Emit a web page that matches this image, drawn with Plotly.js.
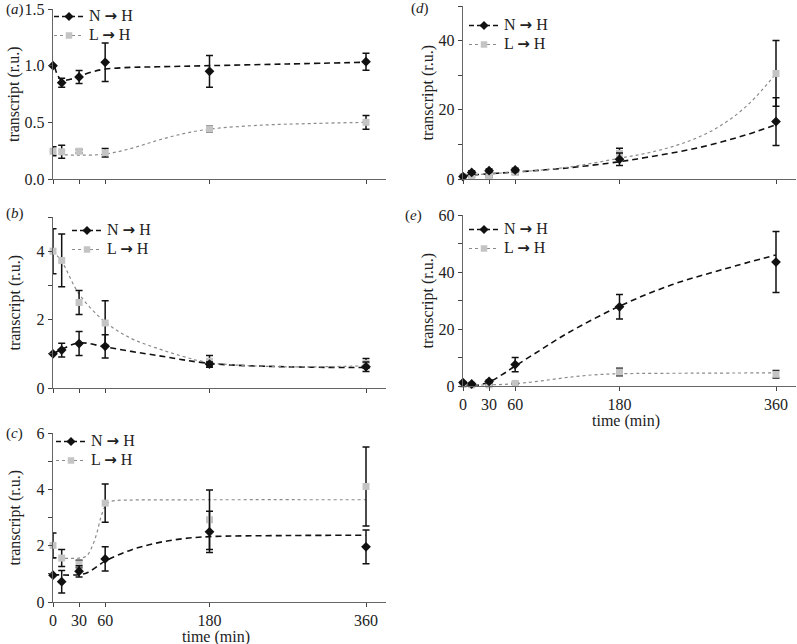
<!DOCTYPE html>
<html>
<head>
<meta charset="utf-8">
<script src="https://cdn.plot.ly/plotly-3.0.1.min.js"></script>
<style>html,body{margin:0;padding:0;background:#fff;}#chart{width:797px;height:644px;}</style>
</head>
<body>
<div id="chart"></div>
<script>
// ---- data ----
const times = [0, 10, 30, 60, 180, 360];
const tickTimes = [0, 30, 60, 180, 360];
const tickLabels = ['0', '30', '60', '180', '360'];
const seriesNames = ['N \u2192 H', 'L \u2192 H'];
const panelLabels = ['a', 'b', 'c', 'd', 'e'];

// panel (a)
const aN = [1.0, 0.85, 0.90, 1.03, 0.95, 1.035];
const aNerr = [0, 0.04, 0.057, 0.17, 0.14, 0.075];
const aL = [0.245, 0.24, 0.245, 0.232, 0.44, 0.50];
const aLerr = [0.04, 0.057, 0.015, 0.037, 0.025, 0.06];
const aFitNt = [2, 5, 10, 20, 30, 45, 60, 90, 120, 180, 270, 360];
const aFitN = [0.99, 0.92, 0.87, 0.88, 0.905, 0.945, 0.97, 0.985, 0.99, 1.0, 1.015, 1.03];
const aFitLt = [0, 10, 30, 60, 90, 120, 150, 180, 240, 300, 360];
const aFitL = [0.22, 0.215, 0.21, 0.22, 0.27, 0.34, 0.40, 0.44, 0.475, 0.49, 0.5];

// panel (b)
const bN = [1.0, 1.11, 1.3, 1.22, 0.70, 0.62];
const bNerr = [0, 0.2, 0.35, 0.34, 0.06, 0.14];
const bL = [4.0, 3.73, 2.5, 1.9, 0.78, 0.72];
const bLerr = [0.66, 0.77, 0.35, 0.65, 0.17, 0.14];
const bFitNt = [0, 10, 30, 60, 90, 120, 180, 270, 360];
const bFitN = [1.0, 1.13, 1.32, 1.2, 1.07, 0.95, 0.72, 0.62, 0.6];
const bFitLt = [0, 10, 30, 60, 90, 120, 150, 180, 270, 360];
const bFitL = [4.0, 3.7, 2.75, 1.93, 1.45, 1.16, 0.92, 0.74, 0.62, 0.65];

// panel (c)
const cN = [0.95, 0.72, 1.09, 1.53, 2.49, 1.96];
const cNerr = [0, 0.4, 0.2, 0.43, 0.73, 0.6];
const cL = [2.01, 1.56, 1.35, 3.51, 2.92, 4.1];
const cLerr = [0.44, 0.3, 0.13, 0.68, 1.06, 1.4];
const cFitNt = [0, 30, 40, 60, 90, 120, 150, 180, 270, 360];
const cFitN = [0.97, 0.97, 1.05, 1.45, 1.85, 2.1, 2.25, 2.32, 2.36, 2.37];
const cFitLt = [0, 10, 20, 30, 38, 44, 50, 55, 60, 65, 72, 90, 180, 360];
const cFitL = [1.55, 1.55, 1.55, 1.56, 1.62, 1.9, 2.4, 3.0, 3.4, 3.55, 3.6, 3.62, 3.63, 3.63];

// panel (d)
const dN = [0.7, 1.9, 2.4, 2.6, 5.7, 16.6];
const dNerr = [0.3, 0.5, 0.5, 0.5, 1.8, 6.9];
const dL = [0.7, 1.0, 0.7, 1.9, 7.4, 30.5];
const dLerr = [0.3, 0.4, 0.3, 0.6, 1.5, 9.5];
const dFitNt = [0, 30, 60, 120, 180, 210, 240, 270, 300, 330, 360];
const dFitN = [1.0, 1.5, 2.0, 3.2, 5.0, 6.2, 7.5, 9.0, 10.9, 13.1, 15.7];
const dFitLt = [0, 30, 60, 120, 180, 210, 240, 270, 300, 330, 360];
const dFitL = [1.0, 1.5, 2.0, 3.4, 6.0, 7.4, 9.3, 12.0, 16.0, 22.0, 30.5];

// panel (e)
const eN = [1.2, 0.7, 1.6, 7.5, 27.8, 43.5];
const eNerr = [0.3, 0.3, 0.5, 2.5, 4.3, 10.7];
const eL = [0.6, 0.4, 0.4, 0.9, 4.9, 4.1];
const eLerr = [0.2, 0.2, 0.2, 0.3, 1.3, 1.3];
const eFitNt = [0, 15, 30, 45, 60, 90, 120, 180, 240, 300, 360];
const eFitN = [0, 0.2, 1.4, 4.0, 7.0, 12.8, 18.5, 28, 35.5, 41, 46];
const eFitLt = [0, 30, 60, 90, 120, 150, 180, 270, 360];
const eFitL = [0.3, 0.4, 0.8, 1.8, 3.0, 3.9, 4.3, 4.5, 4.6];

// ---- styles / layout ----
const SERIF = 'Liberation Serif, Times New Roman, serif';
const TXT = '#222';
const black = '#111';
const gray = '#c4c4c4';
const W = 797, H = 644;
const px2x = p => p / W;
const px2y = p => 1 - p / H;

const panels = [
  {N: aN, Ne: aNerr, L: aL, Le: aLerr, fNt: aFitNt, fN: aFitN, fLt: aFitLt, fL: aFitL,
   xd: [53, 386], yd: [179, 9], yr: [0, 1.5], dtick: 0.5, minor: null, fmt: '.1f', xlab: false, lab: [4, 10], tx: 14, leg: [49, 2]},
  {N: bN, Ne: bNerr, L: bL, Le: bLerr, fNt: bFitNt, fN: bFitN, fLt: bFitLt, fL: bFitL,
   xd: [53, 386], yd: [388, 217], yr: [0, 5], dtick: 2, minor: 1, fmt: 'd', xlab: false, lab: [4, 213], tx: 14, leg: [67, 216]},
  {N: cN, Ne: cNerr, L: cL, Le: cLerr, fNt: cFitNt, fN: cFitN, fLt: cFitLt, fL: cFitL,
   xd: [53, 386], yd: [602, 433], yr: [0, 6], dtick: 2, minor: 1, fmt: 'd', xlab: true, lab: [4, 433], tx: 14, leg: [51, 427]},
  {N: dN, Ne: dNerr, L: dL, Le: dLerr, fNt: dFitNt, fN: dFitN, fLt: dFitLt, fL: dFitL,
   xd: [463, 796], yd: [179, 6], yr: [0, 50], dtick: 20, minor: 10, fmt: 'd', xlab: false, lab: [409, 8], tx: 427, leg: [464, 11]},
  {N: eN, Ne: eNerr, L: eL, Le: eLerr, fNt: eFitNt, fN: eFitN, fLt: eFitLt, fL: eFitL,
   xd: [463, 796], yd: [386, 215], yr: [0, 60], dtick: 20, minor: 10, fmt: 'd', xlab: true, lab: [403, 215], tx: 427, leg: [464, 215]}
];

const traces = [];
const layout = {
  width: W, height: H,
  margin: {l: 0, r: 0, t: 0, b: 0},
  paper_bgcolor: '#fff', plot_bgcolor: 'rgba(0,0,0,0)',
  font: {family: SERIF, size: 15, color: TXT},
  showlegend: true,
  annotations: []
};

const legendText = s => '<span style="font-size:16px">' +
  s.replace('\u2192', '<span style="font-family:DejaVu Sans;font-weight:bold;font-size:15px">\u2192</span>') + '</span>';

panels.forEach((p, i) => {
  const k = i + 1;
  const xa = k === 1 ? 'x' : 'x' + k;
  const ya = k === 1 ? 'y' : 'y' + k;
  const legName = k === 1 ? 'legend' : 'legend' + k;

  // fitted curves
  traces.push({x: p.fNt, y: p.fN, xaxis: xa, yaxis: ya, mode: 'lines', showlegend: false,
    line: {color: black, width: 1.6, dash: '6px,4px', shape: 'spline', smoothing: 1}, hoverinfo: 'skip'});
  traces.push({x: p.fLt, y: p.fL, xaxis: xa, yaxis: ya, mode: 'lines', showlegend: false,
    line: {color: '#8a8a8a', width: 1.2, dash: 'dot', shape: 'spline', smoothing: 1}, hoverinfo: 'skip'});
  // data points with error bars
  traces.push({x: times, y: p.L, xaxis: xa, yaxis: ya, mode: 'markers', showlegend: false, cliponaxis: false,
    marker: {symbol: 'square', size: 7, color: gray},
    error_y: {type: 'data', array: p.Le, visible: true, color: black, thickness: 1.5, width: 3.5}});
  traces.push({x: times, y: p.N, xaxis: xa, yaxis: ya, mode: 'markers', showlegend: false, cliponaxis: false,
    marker: {symbol: 'diamond', size: 7.5, color: black},
    error_y: {type: 'data', array: p.Ne, visible: true, color: black, thickness: 1.5, width: 3.5}});
  // legend entries
  traces.push({x: [null], y: [null], xaxis: xa, yaxis: ya, mode: 'lines+markers', name: legendText(seriesNames[0]), legend: legName,
    line: {color: black, width: 1.5, dash: '5px,3px'}, marker: {symbol: 'diamond', size: 7, color: black}});
  traces.push({x: [null], y: [null], xaxis: xa, yaxis: ya, mode: 'lines+markers', name: legendText(seriesNames[1]), legend: legName,
    line: {color: '#8a8a8a', width: 1.2, dash: 'dot'}, marker: {symbol: 'square', size: 6.5, color: gray}});

  layout[legName] = {
    x: px2x(p.leg[0]), y: px2y(p.leg[1]), xanchor: 'left', yanchor: 'top',
    bgcolor: 'rgba(0,0,0,0)', borderwidth: 0, itemwidth: 30,
    font: {family: SERIF, size: 11, color: TXT}, tracegroupgap: 0, traceorder: 'normal'
  };

  const xKey = k === 1 ? 'xaxis' : 'xaxis' + k;
  const yKey = k === 1 ? 'yaxis' : 'yaxis' + k;
  layout[xKey] = {
    domain: [px2x(p.xd[0]), px2x(p.xd[1])], range: [0, 383], anchor: ya,
    showline: true, linecolor: '#666', linewidth: 1.2, showgrid: false, zeroline: false,
    ticks: 'outside', ticklen: 4, tickcolor: '#444', tickwidth: 1,
    tickmode: 'array', tickvals: tickTimes, ticktext: tickLabels, showticklabels: p.xlab,
    tickfont: {family: SERIF, size: 16, color: TXT}, fixedrange: true
  };
  const yax = {
    domain: [px2y(p.yd[0]), px2y(p.yd[1])], range: p.yr, anchor: xa,
    showline: true, linecolor: '#666', linewidth: 1.2, showgrid: false, zeroline: false,
    ticks: 'outside', ticklen: 4, tickcolor: '#444', tickwidth: 1,
    tick0: 0, dtick: p.dtick, tickformat: p.fmt,
    tickfont: {family: SERIF, size: 16, color: TXT}, fixedrange: true
  };
  if (p.minor) yax.minor = {dtick: p.minor, tick0: 0, ticks: 'outside', ticklen: 4, tickcolor: '#444', showgrid: false};
  layout[yKey] = yax;

  // panel label
  layout.annotations.push({xref: 'paper', yref: 'paper', x: px2x(p.lab[0]), y: px2y(p.lab[1]),
    xanchor: 'left', yanchor: 'middle', showarrow: false,
    text: '(<i>' + panelLabels[i] + '</i>)', font: {family: SERIF, size: 15, color: TXT}});
  // y title
  layout.annotations.push({xref: 'paper', yref: 'paper', x: px2x(p.tx), y: px2y((p.yd[0] + p.yd[1]) / 2),
    xanchor: 'center', yanchor: 'middle', showarrow: false, textangle: -90,
    text: 'transcript (r.u.)', font: {family: SERIF, size: 16, color: TXT}});
  // x title
  if (p.xlab) {
    layout.annotations.push({xref: 'paper', yref: 'paper', x: px2x((p.xd[0] + p.xd[1]) / 2 - 4), y: px2y(p.yd[0] + 35),
      xanchor: 'center', yanchor: 'middle', showarrow: false,
      text: 'time (min)', font: {family: SERIF, size: 16, color: TXT}});
  }
});

Plotly.newPlot('chart', traces, layout, {displayModeBar: false, staticPlot: true});
</script>
</body>
</html>
